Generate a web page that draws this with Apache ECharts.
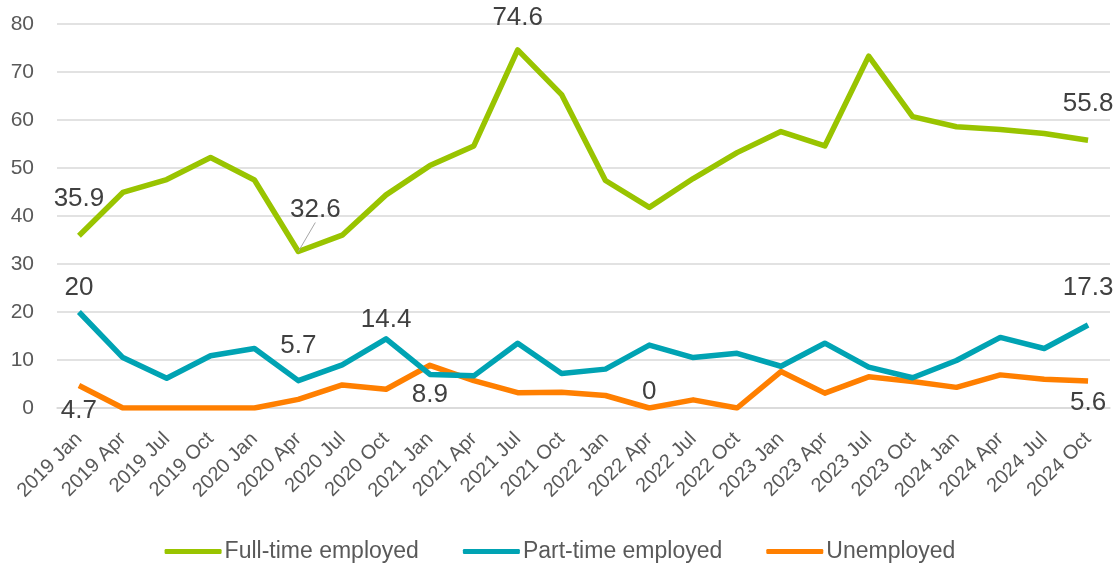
<!DOCTYPE html>
<html>
<head>
<meta charset="utf-8">
<script src="https://cdn.jsdelivr.net/npm/echarts@6/dist/echarts.min.js"></script>
<style>
html,body{margin:0;padding:0;background:#fff;}
#chart{width:1120px;height:563px;}
</style>
</head>
<body>
<div id="chart"></div>
<script>
const categories = ["2019 Jan","2019 Apr","2019 Jul","2019 Oct","2020 Jan","2020 Apr","2020 Jul","2020 Oct","2021 Jan","2021 Apr","2021 Jul","2021 Oct","2022 Jan","2022 Apr","2022 Jul","2022 Oct","2023 Jan","2023 Apr","2023 Jul","2023 Oct","2024 Jan","2024 Apr","2024 Jul","2024 Oct"];
const fullTime = [35.9,44.9,47.6,52.2,47.5,32.6,36.0,44.4,50.5,54.6,74.6,65.3,47.4,41.8,47.8,53.2,57.6,54.6,73.3,60.7,58.6,58.0,57.2,55.8];
const partTime = [20,10.5,6.2,10.9,12.4,5.7,9.0,14.4,7.0,6.7,13.5,7.2,8.1,13.1,10.5,11.4,8.7,13.5,8.5,6.3,9.9,14.7,12.4,17.3];
const unemployed = [4.7,0,0,0,0,1.8,4.8,3.9,8.9,5.7,3.2,3.3,2.6,0,1.7,0,7.6,3.1,6.5,5.5,4.3,6.9,6.0,5.6];
const yTicks = [0,10,20,30,40,50,60,70,80];

// labelled points: index -> [position, distance, showGuideLine]
const fullLabels = {0:['top',24,false],5:['top',5,true],10:['top',19,false],23:['top',23,false]};
const partLabels = {0:['top',11,false],5:['top',22,false],7:['top',6,false],23:['top',24,false]};
const unempLabels = {0:['bottom',12,false],8:['bottom',17,false],13:['top',3,false],23:['bottom',9,false]};

function build(values, labels){
  return values.map((v,i)=>{
    const l = labels[i];
    if(!l) return v;
    return {value:v,label:{show:true,position:l[0],distance:l[1]},labelLine:{show:l[2]}};
  });
}

const labelStyle = {fontSize:26,color:'#404040',fontFamily:'Liberation Sans, Arial, sans-serif'};

const chart = echarts.init(document.getElementById('chart'));
chart.setOption({
  animation:false,
  backgroundColor:'#fff',
  grid:{left:57,right:10,top:24,bottom:155,containLabel:false},
  legend:{
    top:535,left:'center',
    itemWidth:57,itemHeight:5,itemGap:44,
    icon:'roundRect',
    textStyle:{fontSize:23,color:'#595959',fontFamily:'Liberation Sans, Arial, sans-serif',padding:[0,0,0,-2]},
    data:['Full-time employed','Part-time employed','Unemployed']
  },
  xAxis:{
    type:'category',data:categories,boundaryGap:true,
    axisLine:{show:true,lineStyle:{color:'#D9D9D9',width:1.5}},
    axisTick:{show:false},
    axisLabel:{rotate:45,fontSize:20,color:'#595959',margin:28,interval:0,fontFamily:'Liberation Sans, Arial, sans-serif'}
  },
  yAxis:{
    type:'value',min:yTicks[0],max:yTicks[yTicks.length-1],interval:10,
    axisLine:{show:false},axisTick:{show:false},
    axisLabel:{fontSize:21,color:'#595959',margin:23,fontFamily:'Liberation Sans, Arial, sans-serif'},
    splitLine:{lineStyle:{color:'#D9D9D9',width:1.5}}
  },
  series:[
    {name:'Full-time employed',type:'line',data:build(fullTime,fullLabels),
     symbol:'circle',symbolSize:0.01,showSymbol:true,
     lineStyle:{width:5.5,color:'#99C400',join:'round'},itemStyle:{color:'#99C400'},
     label:{show:false,...labelStyle},
     labelLine:{show:false,lineStyle:{color:'#A6A6A6',width:1}},
     labelLayout:function(p){ if(p.dataIndex===5){return {dx:17,dy:-24};} return {}; },
     z:3},
    {name:'Part-time employed',type:'line',data:build(partTime,partLabels),
     symbol:'circle',symbolSize:0.01,showSymbol:true,
     lineStyle:{width:5.5,color:'#00A3B3',join:'round'},itemStyle:{color:'#00A3B3'},
     label:{show:false,...labelStyle},labelLine:{show:false},z:2},
    {name:'Unemployed',type:'line',data:build(unemployed,unempLabels),
     symbol:'circle',symbolSize:0.01,showSymbol:true,
     lineStyle:{width:5.5,color:'#FF7F00',join:'round'},itemStyle:{color:'#FF7F00'},
     label:{show:false,...labelStyle},labelLine:{show:false},z:1}
  ]
});
</script>
</body>
</html>
